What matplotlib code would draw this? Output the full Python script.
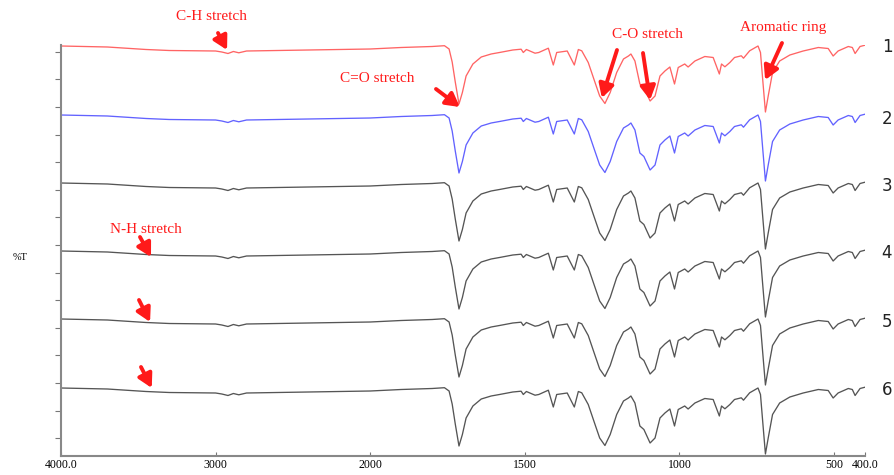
import numpy as np
import matplotlib
matplotlib.use("Agg")
import matplotlib.pyplot as plt

# wavenumber (cm-1) and drop in %T below each trace's start level
wavenumber = [4000, 3700, 3450, 3300, 3000, 2960, 2920, 2885, 2850, 2800, 2600, 2400, 2000,
              1900, 1800, 1760, 1745, 1735, 1725, 1713, 1702, 1690, 1668, 1641, 1609, 1582,
              1539, 1512, 1505, 1495, 1467, 1455, 1424, 1408, 1397, 1363, 1340, 1327, 1316,
              1295, 1273, 1258, 1241, 1224, 1203, 1181, 1165, 1157, 1144, 1128, 1115, 1095,
              1079, 1063, 1047, 1031, 1016, 1004, 983, 972, 950, 918, 891, 871, 864, 853,
              837, 822, 800, 793, 773, 746, 738, 730, 722, 713, 699, 676, 643, 600, 551,
              519, 503, 487, 454, 441, 432, 416, 400]
drop = [0, 1, 3.5, 4.5, 5, 6, 7.5, 5.5, 6.8, 5, 4.5, 4, 3,
        1.5, 0.5, -0.3, 3, 16, 36, 58, 46.5, 30, 18, 11, 8, 6.5,
        4, 3.2, 6.5, 3.5, 7.2, 6.5, 2.2, 19, 6.5, 5, 19, 3.5, 4.8,
        16.5, 36.5, 50, 57.5, 46.5, 26.5, 13, 10, 8, 15, 38, 41.5, 55,
        50, 30, 25, 21, 38, 21.5, 18, 21, 15, 10.5, 11.5, 28, 18, 20.8,
        16.5, 11.5, 9.8, 12.2, 4.8, 0, 6.5, 36.5, 66, 50, 26.5, 15, 9, 5, 1.5,
        2.5, 10, 5, 0.5, 1.5, 7.5, 0.5, -0.8]

trace_names = ["1", "2", "3", "4", "5", "6"]
trace_start = [410, 341, 273, 205, 137, 68]
trace_colors = ["#ff6464", "#6262ff", "#555555", "#555555", "#555555", "#555555"]

x_ticks = [4000, 3000, 2000, 1500, 1000, 500, 400]
x_ticklabels = ["4000.0", "3000", "2000", "1500", "1000", "500", "400.0"]


# FTIR axis: scale doubles below 2000 cm-1
def fwd(v):
    v = np.asarray(v, dtype=float)
    return np.where(v <= 2000, 2 * v, v + 2000)


def inv(u):
    u = np.asarray(u, dtype=float)
    return np.where(u <= 4000, u / 2, u - 2000)


fig = plt.figure(figsize=(8.95, 4.75), dpi=100)
ax = fig.add_axes([61 / 895, 19 / 475, 804 / 895, 411 / 475])
ax.set_xscale("function", functions=(fwd, inv))

wn = np.array(wavenumber)
d = np.array(drop)
for name, start, col in zip(trace_names, trace_start, trace_colors):
    ax.plot(wn, start - d, color=col, lw=0.95)

ax.set_xlim(4000, 400)
ax.set_ylim(0, 411)
ax.set_xticks(x_ticks)
ax.set_xticklabels(x_ticklabels, family=["Liberation Serif"], fontsize=8.5)
ax.set_yticks(np.arange(17.9, 410, 27.6))
ax.set_yticklabels([])
ax.tick_params(axis="x", direction="in", length=3, color="#777777", pad=2)
ax.tick_params(axis="y", direction="out", length=4, color="#777777")
for s in ["top", "right"]:
    ax.spines[s].set_visible(False)
for s in ["left", "bottom"]:
    ax.spines[s].set_color("#888888")
    ax.spines[s].set_linewidth(1.5)

# trace numbers on the right
label_y = [47, 119, 186, 253, 322, 390]
for name, py in zip(trace_names, label_y):
    fig.text(887 / 895, 1 - py / 475, name, ha="center", va="center",
             fontsize=12, family=["DejaVu Sans"], color="#222222")

fig.text(20 / 895, 1 - 257 / 475, "%T", ha="center", va="center",
         fontsize=7.5, family=["Liberation Serif"])

red = "#ff1a1a"
serif = ["Liberation Serif"]
notes = [("C-H stretch", 211, 17), ("C=O stretch", 377, 78), ("C-O stretch", 647, 35),
         ("Aromatic ring", 783, 27), ("N-H stretch", 146, 230)]
for txt, px, py in notes:
    fig.text(px / 895, 1 - py / 475, txt, ha="center", va="center",
             fontsize=11, family=serif, color=red)

# arrows: tip at the band (data), tail in figure pixels
arrows = [((2926, 406), (218, 33)), ((1710, 349), (436, 89)), ((1251, 358), (617, 50)),
          ((1095, 356), (643, 53)), ((723, 376), (782, 43)), ((3418, 199), (140, 237)),
          ((3424, 134), (139, 300)), ((3413, 68), (141, 367))]
for tip, (tx, ty) in arrows:
    ax.annotate("", xy=tip, xycoords="data", xytext=(tx, 475 - ty),
                textcoords="figure pixels",
                arrowprops=dict(arrowstyle="-|>,head_length=0.45,head_width=0.25",
                                color=red, lw=2.8, mutation_scale=18,
                                shrinkA=0, shrinkB=0))

fig.savefig("out.png", dpi=100)
